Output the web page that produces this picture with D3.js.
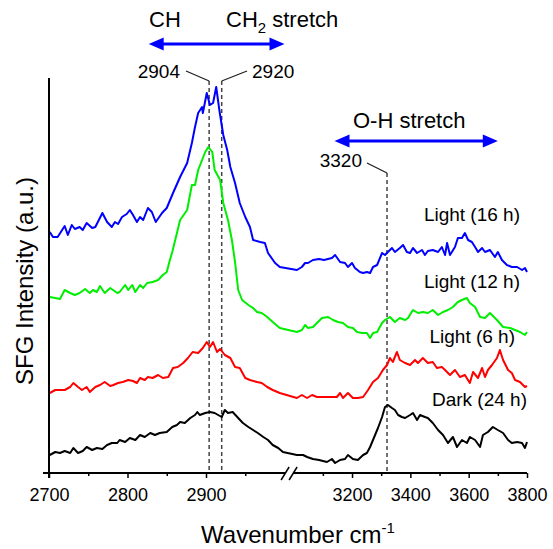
<!DOCTYPE html>
<html>
<head>
<meta charset="utf-8">
<title></title>
<style>
body { margin: 0; background: #fff; }
text { font-family: "Liberation Sans", Arial, sans-serif; fill: #000; }
.series { fill: none; stroke-width: 2px; stroke-linejoin: round; }
.guide { stroke: #444; stroke-width: 1.5px; stroke-dasharray: 4,3; }
.leader { stroke: #222; stroke-width: 1.3px; fill: none; }
.axis path, .axis line { stroke: #000; }
</style>
</head>
<body>
<script src="https://cdn.jsdelivr.net/npm/d3@7"></script>
<script>

// spectra: [wavenumber (cm-1), SFG intensity (a.u., offset)]
var light16 = [[2701,2.41],[2705,2.36],[2711,2.36],[2720,2.47],[2724,2.38],[2729,2.48],[2733,2.44],[2739,2.46],[2743,2.43],[2748,2.50],[2755,2.45],[2759,2.46],[2768,2.60],[2774,2.51],[2780,2.46],[2784,2.51],[2788,2.49],[2793,2.56],[2799,2.59],[2803,2.63],[2807,2.58],[2812,2.51],[2816,2.56],[2820,2.53],[2826,2.65],[2831,2.61],[2836,2.51],[2844,2.60],[2850,2.65],[2858,2.80],[2867,2.96],[2876,3.10],[2882,3.30],[2886,3.46],[2890,3.60],[2895,3.66],[2896,3.60],[2901,3.80],[2905,3.68],[2909,3.70],[2913,3.86],[2917,3.63],[2922,3.38],[2927,3.23],[2931,3.06],[2937,2.90],[2943,2.70],[2950,2.56],[2956,2.46],[2960,2.33],[2969,2.31],[2975,2.30],[2979,2.20],[2988,2.10],[2994,2.06],
  [3011,2.03],[3028,2.06],[3039,2.10],[3049,2.10],[3066,2.13],[3087,2.14],[3104,2.13],[3131,2.15],[3142,2.18],[3159,2.11],[3176,2.10],[3186,2.06],[3200,2.10],[3210,2.05],[3227,2.01],[3238,2.00],[3251,2.01],[3262,2.00],[3272,2.06],[3286,2.08],[3303,2.20],[3313,2.18],[3323,2.21],[3337,2.25],[3347,2.21],[3364,2.25],[3375,2.28],[3388,2.21],[3399,2.20],[3409,2.25],[3423,2.20],[3440,2.23],[3450,2.18],[3460,2.22],[3477,2.23],[3495,2.21],[3508,2.26],[3519,2.18],[3526,2.30],[3536,2.18],[3553,2.26],[3563,2.35],[3577,2.35],[3587,2.40],[3598,2.33],[3611,2.31],[3622,2.26],[3632,2.21],[3646,2.25],[3656,2.21],[3673,2.23],[3690,2.16],[3700,2.21],[3714,2.13],[3731,2.08],[3748,2.06],[3766,2.06],[3783,2.03],[3793,2.05],[3800,2.01]];

var light12 = [[2701,1.76],[2708,1.75],[2714,1.74],[2720,1.83],[2727,1.80],[2733,1.78],[2739,1.80],[2746,1.84],[2752,1.80],[2756,1.83],[2761,1.81],[2765,1.87],[2771,1.80],[2778,1.85],[2787,1.80],[2790,1.81],[2797,1.88],[2801,1.83],[2806,1.88],[2810,1.81],[2816,1.88],[2820,1.85],[2825,1.90],[2832,1.91],[2839,1.93],[2845,1.98],[2850,2.01],[2854,2.13],[2857,2.21],[2863,2.40],[2867,2.53],[2876,2.63],[2882,2.88],[2886,2.88],[2890,3.03],[2895,3.13],[2899,3.21],[2903,3.26],[2908,3.21],[2911,3.03],[2918,2.93],[2922,2.70],[2928,2.53],[2933,2.33],[2937,2.11],[2941,1.83],[2946,1.73],[2954,1.68],[2960,1.65],[2965,1.61],[2971,1.60],[2978,1.56],[2985,1.51],[2994,1.45],
  [3011,1.41],[3028,1.43],[3039,1.48],[3049,1.45],[3066,1.46],[3083,1.51],[3097,1.55],[3118,1.56],[3135,1.53],[3152,1.51],[3169,1.50],[3186,1.46],[3203,1.45],[3217,1.41],[3234,1.40],[3251,1.40],[3262,1.35],[3272,1.40],[3286,1.41],[3303,1.50],[3313,1.53],[3330,1.56],[3347,1.51],[3364,1.55],[3382,1.53],[3392,1.55],[3409,1.63],[3426,1.60],[3443,1.61],[3460,1.60],[3477,1.63],[3495,1.58],[3512,1.61],[3529,1.63],[3546,1.66],[3563,1.71],[3577,1.73],[3594,1.75],[3604,1.70],[3622,1.66],[3639,1.56],[3656,1.55],[3673,1.60],[3697,1.53],[3718,1.46],[3742,1.45],[3759,1.43],[3776,1.41],[3793,1.38],[3800,1.41]];

var light6 = [[2701,0.80],[2708,0.83],[2714,0.83],[2720,0.83],[2727,0.86],[2731,0.90],[2737,0.86],[2742,0.83],[2748,0.86],[2752,0.81],[2759,0.86],[2765,0.88],[2771,0.91],[2778,0.87],[2782,0.88],[2788,0.90],[2794,0.91],[2801,0.93],[2807,0.92],[2812,0.90],[2816,0.95],[2822,0.93],[2826,0.96],[2832,0.95],[2839,0.98],[2845,0.95],[2852,0.96],[2858,1.05],[2864,1.06],[2871,1.10],[2877,1.15],[2883,1.21],[2890,1.20],[2896,1.25],[2901,1.31],[2905,1.26],[2909,1.31],[2914,1.21],[2918,1.24],[2924,1.18],[2931,1.15],[2937,1.06],[2943,1.05],[2950,0.95],[2956,0.93],[2965,0.91],[2971,0.90],[2978,0.86],[2985,0.83],[2994,0.80],
  [3011,0.75],[3028,0.78],[3046,0.75],[3063,0.78],[3080,0.76],[3097,0.76],[3124,0.76],[3148,0.76],[3159,0.80],[3169,0.75],[3186,0.80],[3203,0.75],[3220,0.75],[3238,0.76],[3255,0.83],[3272,0.91],[3289,0.95],[3306,1.03],[3320,1.08],[3330,1.15],[3340,1.11],[3354,1.21],[3364,1.13],[3382,1.10],[3399,1.08],[3416,1.13],[3426,1.10],[3443,1.15],[3460,1.10],[3477,1.11],[3491,1.05],[3508,1.06],[3519,1.03],[3536,0.98],[3553,1.03],[3570,0.96],[3587,0.98],[3604,0.90],[3615,1.01],[3632,0.95],[3646,1.05],[3656,0.96],[3666,1.03],[3680,1.08],[3697,1.15],[3707,1.23],[3718,1.13],[3735,1.03],[3748,1.00],[3759,0.93],[3776,0.91],[3793,0.86],[3800,0.87]];

var dark24 = [[2701,0.18],[2708,0.21],[2714,0.20],[2720,0.22],[2727,0.20],[2731,0.25],[2737,0.20],[2743,0.22],[2748,0.26],[2755,0.23],[2761,0.25],[2768,0.24],[2774,0.28],[2780,0.30],[2787,0.30],[2790,0.33],[2797,0.31],[2803,0.35],[2810,0.33],[2816,0.38],[2822,0.36],[2829,0.40],[2835,0.38],[2841,0.40],[2850,0.41],[2857,0.46],[2863,0.48],[2867,0.51],[2873,0.50],[2880,0.55],[2886,0.58],[2889,0.61],[2892,0.58],[2899,0.60],[2905,0.61],[2911,0.60],[2920,0.56],[2924,0.63],[2928,0.60],[2934,0.61],[2941,0.55],[2947,0.50],[2954,0.46],[2960,0.43],[2966,0.40],[2973,0.36],[2979,0.33],[2985,0.28],[2992,0.25],[2998,0.21],
  [3011,0.18],[3032,0.18],[3046,0.16],[3066,0.14],[3087,0.13],[3114,0.11],[3131,0.14],[3142,0.10],[3159,0.13],[3176,0.14],[3186,0.18],[3203,0.14],[3220,0.13],[3238,0.18],[3251,0.20],[3262,0.26],[3279,0.38],[3289,0.45],[3303,0.56],[3313,0.66],[3323,0.68],[3337,0.65],[3347,0.63],[3358,0.58],[3371,0.56],[3382,0.55],[3399,0.58],[3409,0.60],[3423,0.53],[3433,0.58],[3450,0.56],[3460,0.55],[3477,0.50],[3495,0.43],[3512,0.38],[3529,0.30],[3546,0.36],[3560,0.26],[3577,0.33],[3594,0.30],[3604,0.36],[3622,0.33],[3639,0.26],[3649,0.38],[3666,0.41],[3683,0.46],[3700,0.43],[3718,0.40],[3735,0.33],[3748,0.30],[3766,0.31],[3783,0.30],[3793,0.25],[3800,0.31]];

var seriesNames = ["Light (16 h)", "Light (12 h)", "Light (6 h)", "Dark (24 h)"];
var seriesColors = ["#0000ff", "#00ee00", "#ff0000", "#000000"];

var majorLeft = [2700, 2800, 2900], minorLeft = [2750, 2850, 2950];
var majorRight = [3200, 3400, 3600, 3800], minorRight = [3100, 3300, 3500, 3700];

var peakMarks = [2904, 2920, 3320];
var chRange = [2827, 3000], ohRange = [3140, 3700];

var width = 553, height = 549;

var svg = d3.select("body").append("svg")
    .attr("width", width)
    .attr("height", height);

// broken x axis: two linear pieces
var xL = d3.scaleLinear().domain([2700, 3000]).range([49, 284.5]);
var xR = d3.scaleLinear().domain([3000, 3800]).range([293.7, 527]);
function x(v) { return v <= 3000 ? xL(v) : xR(v); }

var y = d3.scaleLinear().domain([0, 3.95]).range([473, 78]);

// guides (dashed)
svg.append("g").selectAll("line")
    .data(peakMarks)
    .enter().append("line")
    .attr("class", "guide")
    .attr("x1", d => x(d)).attr("x2", d => x(d))
    .attr("y1", d => d < 3000 ? y(3.92) : y(3.0))
    .attr("y2", y(0));

// spectra
var line = d3.line().x(d => x(d[0])).y(d => y(d[1]));
svg.append("g").selectAll("path")
    .data([light16, light12, light6, dark24])
    .enter().append("path")
    .attr("class", "series")
    .attr("stroke", (d, i) => seriesColors[i])
    .attr("d", line);

// axes
function bottom(scale, vals, size, labels) {
  var g = svg.append("g").attr("class", "axis")
      .attr("transform", "translate(0," + y(0) + ")")
      .call(d3.axisBottom(scale).tickValues(vals).tickSize(size)
        .tickFormat(labels ? d3.format("d") : ""));
  g.select(".domain").remove();
  g.selectAll("line").attr("stroke-width", 1.5);
  g.selectAll("text").attr("y", 28).attr("dy", null)
      .style("font-size", "18px");
}
bottom(xL, majorLeft, 5, true);
bottom(xL, minorLeft, 3, false);
bottom(xR, majorRight, 5, true);
bottom(xR, minorRight, 3, false);

var ax = svg.append("g").attr("stroke", "#000").attr("stroke-width", 2);
ax.append("line").attr("x1", xL(2700) - 6).attr("x2", xL(3000) + 0.5).attr("y1", y(0)).attr("y2", y(0));
ax.append("line").attr("x1", xR(3000) - 0.5).attr("x2", xR(3800)).attr("y1", y(0)).attr("y2", y(0));
ax.append("line").attr("x1", xL(2700)).attr("x2", xL(2700)).attr("y1", y(3.95)).attr("y2", y(0) + 5);
// break marks
ax.selectAll(".brk").data([-4, 4]).enter().append("line")
    .attr("stroke-width", 1.5)
    .attr("x1", d => (xL(3000) + xR(3000)) / 2 + d - 4).attr("y1", y(0) + 7)
    .attr("x2", d => (xL(3000) + xR(3000)) / 2 + d + 4).attr("y2", y(0) - 6);

// axis titles
svg.append("text")
    .attr("transform", "translate(33,281) rotate(-90)")
    .attr("text-anchor", "middle")
    .style("font-size", "24px")
    .text("SFG Intensity (a.u.)");

var xt = svg.append("text")
    .attr("x", 298).attr("y", 543)
    .attr("text-anchor", "middle")
    .style("font-size", "24px");
xt.append("tspan").text("Wavenumber cm");
xt.append("tspan").attr("dy", -10).style("font-size", "15px").text("-1");

// series labels
var labelPos = [[520, 221], [520, 288], [515, 343], [527, 406]];
svg.append("g").selectAll("text")
    .data(seriesNames)
    .enter().append("text")
    .attr("x", (d, i) => labelPos[i][0])
    .attr("y", (d, i) => labelPos[i][1])
    .attr("text-anchor", "end")
    .style("font-size", "19px")
    .text(d => d);

// double arrows
function arrow(x1, x2, yy) {
  var g = svg.append("g").attr("fill", "#0000ff").attr("stroke", "#0000ff");
  g.append("line").attr("x1", x1 + 8).attr("x2", x2 - 8).attr("y1", yy).attr("y2", yy)
      .attr("stroke-width", 3);
  g.append("path").attr("stroke", "none")
      .attr("d", "M" + x1 + "," + yy + "L" + (x1 + 15) + "," + (yy - 6.5) + "L" + (x1 + 15) + "," + (yy + 6.5) + "Z");
  g.append("path").attr("stroke", "none")
      .attr("d", "M" + x2 + "," + yy + "L" + (x2 - 15) + "," + (yy - 6.5) + "L" + (x2 - 15) + "," + (yy + 6.5) + "Z");
}
arrow(x(chRange[0]), x(chRange[1]), 44);
arrow(x(ohRange[0]), x(ohRange[1]), 141);

svg.append("text").attr("x", 149).attr("y", 27).style("font-size", "22px").text("CH");
var ch2 = svg.append("text").attr("x", 226).attr("y", 27).style("font-size", "22px");
ch2.append("tspan").text("CH");
ch2.append("tspan").attr("dy", 6).style("font-size", "15px").text("2");
ch2.append("tspan").attr("dy", -6).text(" stretch");
svg.append("text").attr("x", 353).attr("y", 128).style("font-size", "22px").text("O-H stretch");

// peak labels with leader lines
svg.append("text").attr("x", 180).attr("y", 78).attr("text-anchor", "end")
    .style("font-size", "19px").text(peakMarks[0]);
svg.append("path").attr("class", "leader")
    .attr("d", "M186,71L" + x(peakMarks[0]) + "," + y(3.92));
svg.append("text").attr("x", 252).attr("y", 78)
    .style("font-size", "19px").text(peakMarks[1]);
svg.append("path").attr("class", "leader")
    .attr("d", "M" + x(peakMarks[1]) + "," + y(3.92) + "L247,71");
svg.append("text").attr("x", 362).attr("y", 167).attr("text-anchor", "end")
    .style("font-size", "19px").text(peakMarks[2]);
svg.append("path").attr("class", "leader")
    .attr("d", "M367,163L" + x(peakMarks[2]) + "," + y(3.0));

</script>
</body>
</html>
